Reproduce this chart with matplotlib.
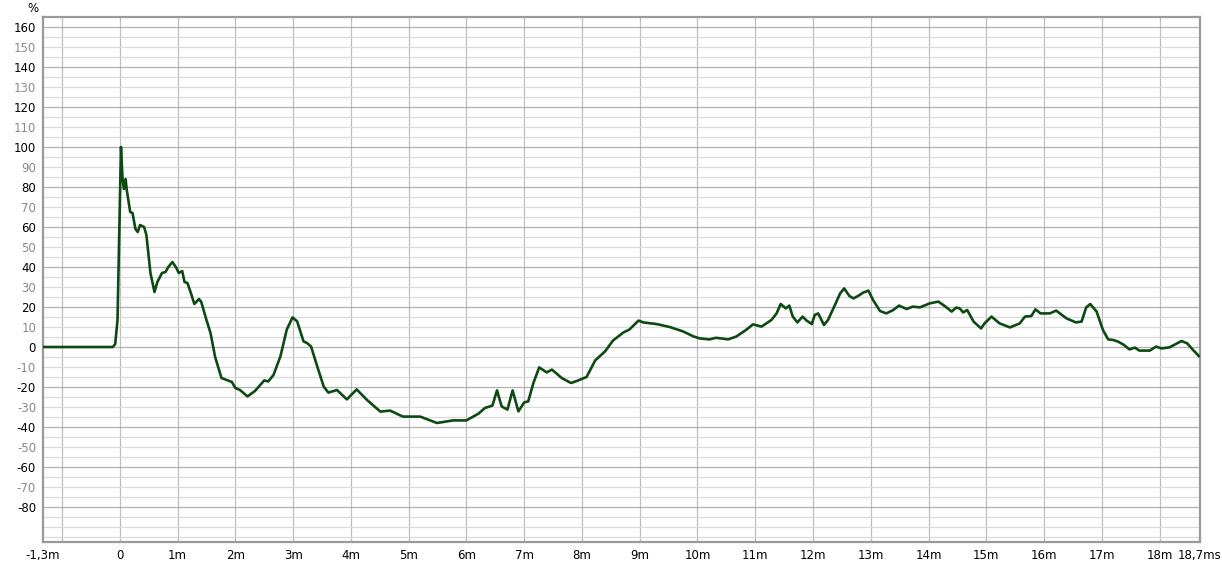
import matplotlib.pyplot as plt
import numpy as np

# impulse response, time in ms and level in %
t_ms = [
    -1.33, -0.12, -0.08, -0.04, 0.0, 0.02, 0.045, 0.07, 0.1, 0.12, 0.18, 0.22, 0.27, 0.31,
    0.35, 0.42, 0.46, 0.53, 0.6, 0.65, 0.73, 0.79, 0.84, 0.91, 0.98, 1.02, 1.08, 1.12,
    1.17, 1.23, 1.29, 1.37, 1.41, 1.5, 1.57, 1.65, 1.76, 1.85, 1.94, 2.0, 2.08, 2.21,
    2.34, 2.5, 2.57, 2.66, 2.78, 2.89, 2.99, 3.07, 3.18, 3.24, 3.31, 3.41, 3.53, 3.61,
    3.76, 3.93, 4.1, 4.28, 4.51, 4.68, 4.9, 5.2, 5.49, 5.77, 6.0, 6.21, 6.32, 6.45,
    6.53, 6.61, 6.71, 6.8, 6.9, 7.0, 7.07, 7.16, 7.26, 7.39, 7.48, 7.65, 7.81, 7.91,
    8.08, 8.23, 8.4, 8.54, 8.72, 8.82, 8.98, 9.06, 9.29, 9.52, 9.75, 9.93, 10.04, 10.21,
    10.32, 10.41, 10.53, 10.67, 10.84, 10.96, 11.11, 11.28, 11.37, 11.44, 11.53, 11.59, 11.65, 11.73,
    11.82, 11.89, 11.98, 12.03, 12.09, 12.19, 12.26, 12.38, 12.47, 12.54, 12.63, 12.7, 12.78, 12.87,
    12.96, 13.04, 13.16, 13.27, 13.39, 13.49, 13.62, 13.73, 13.85, 14.02, 14.17, 14.28, 14.4, 14.48,
    14.54, 14.6, 14.67, 14.78, 14.91, 14.97, 15.09, 15.23, 15.41, 15.58, 15.67, 15.78, 15.85, 15.94,
    16.1, 16.21, 16.39, 16.55, 16.65, 16.73, 16.8, 16.91, 17.02, 17.11, 17.2, 17.28, 17.37, 17.48,
    17.57, 17.65, 17.83, 17.94, 18.03, 18.17, 18.38, 18.48, 18.58, 18.68,
]
pct = [
    0.0, 0.0, 1.5, 13.5, 70.0, 100.0, 85.0, 79.0, 84.0, 78.5, 67.5, 67.0, 59.0, 57.5,
    61.0, 60.0, 56.0, 37.0, 27.5, 32.5, 37.0, 37.5, 40.0, 42.5, 39.5, 37.0, 38.0, 32.5,
    32.0, 27.0, 21.5, 24.0, 22.5, 13.5, 7.0, -5.0, -15.5, -16.5, -17.5, -20.5, -21.5, -24.7,
    -22.0, -16.7, -17.2, -14.0, -4.7, 8.7, 14.8, 12.8, 2.8, 2.0, 0.3, -9.0, -19.8, -22.8,
    -21.5, -26.2, -21.2, -26.5, -32.3, -31.8, -34.8, -34.8, -38.0, -36.7, -36.7, -33.3, -30.5, -29.3,
    -21.7, -29.7, -31.3, -21.7, -32.2, -27.7, -27.2, -18.0, -10.2, -12.7, -11.3, -15.5, -18.0, -17.0,
    -15.0, -6.7, -2.2, 3.3, 7.3, 8.7, 13.2, 12.3, 11.5, 10.0, 7.8, 5.3, 4.3, 3.8,
    4.6, 4.3, 3.8, 5.2, 8.5, 11.3, 10.2, 13.5, 16.8, 21.5, 19.3, 20.7, 15.2, 12.3,
    15.2, 13.2, 11.5, 16.0, 16.8, 11.0, 13.5, 21.0, 26.8, 29.3, 25.5, 24.3, 25.5, 27.2,
    28.2, 23.5, 18.0, 16.8, 18.5, 20.7, 19.0, 20.2, 19.8, 21.8, 22.7, 20.5, 17.7, 19.7,
    19.3, 17.3, 18.5, 12.7, 9.3, 11.8, 15.2, 11.8, 9.8, 11.8, 15.2, 15.5, 18.8, 16.8,
    16.8, 18.2, 14.3, 12.3, 12.7, 19.8, 21.5, 17.7, 8.5, 3.8, 3.5, 2.7, 1.3, -1.2,
    -0.3, -1.8, -1.8, 0.2, -0.7, -0.2, 3.0, 1.8, -1.5, -4.5,
]

x_ticks = [-1.33] + list(range(0, 19)) + [18.7]
x_labels = ["-1,3m", "0"] + [f"{i}m" for i in range(1, 19)] + ["18,7ms"]
y_ticks = list(range(-80, 161, 10))
x_min, x_max = -1.33, 18.7
y_min, y_max = -97.5, 165


def main() -> None:
    fig = plt.figure(figsize=(12.22, 5.67), dpi=100)
    ax = fig.add_axes([43 / 1222, 25 / 567, 1157 / 1222, 525 / 567])

    # grid: vertical every ms, horizontal every 5 %, darker every 20 %
    for xv in range(-1, 19):
        ax.axvline(xv, color="#bdbdbd", lw=0.9, zorder=1)
    for yv in np.arange(-95, 165, 5):
        col = "#b0b0b0" if yv % 20 == 0 else "#dadada"
        ax.axhline(yv, color=col, lw=0.9, zorder=1)

    ax.plot(t_ms, pct, color="#0d4a12", lw=1.9, zorder=3, solid_joinstyle="round")

    ax.set_xlim(x_min, x_max)
    ax.set_ylim(y_min, y_max)
    ax.set_xticks(x_ticks, x_labels)
    ax.set_yticks(y_ticks, [str(v) for v in y_ticks])
    ax.tick_params(length=0, labelsize=8.5, pad=5)
    for lab, v in zip(ax.get_yticklabels(), y_ticks):
        lab.set_color("#000000" if v % 20 == 0 else "#8a8a8a")

    for sp in ax.spines.values():
        sp.set_color("#9a9a9a")
        sp.set_linewidth(1.6)

    fig.text(33 / 1222, 1 - 8 / 567, "%", ha="center", va="center", fontsize=8.5)
    fig.savefig("out.png", dpi=100)
    plt.close(fig)


if __name__ == "__main__":
    main()
